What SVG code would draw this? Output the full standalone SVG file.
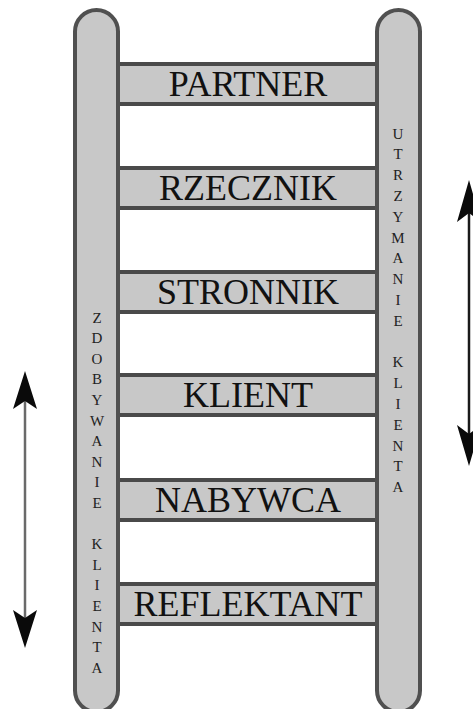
<svg xmlns="http://www.w3.org/2000/svg" width="473" height="709" viewBox="0 0 473 709">
  <style>
    .rail { fill: #c8c8c8; stroke: #505050; stroke-width: 4; }
    .rung { fill: #c8c8c8; stroke: #4a4a4a; stroke-width: 4; }
    .label { font-family: "Liberation Serif", "Times New Roman", serif; font-size: 36px; fill: #111111; text-anchor: middle; }
    .vert { font-family: "Liberation Serif", "Times New Roman", serif; font-size: 15px; fill: #222222; text-anchor: middle; }
    .shaft { fill: none; stroke-width: 2.5; }
    .head { fill: #0a0a0a; }
  </style>
  <rect width="473" height="709" fill="#ffffff"/>

  <!-- rungs (drawn under the rails) -->
  <g id="rung-partner">
    <rect class="rung" x="110" y="64" width="276" height="40"/>
    <text class="label" x="248" y="96">PARTNER</text>
  </g>
  <g id="rung-rzecznik">
    <rect class="rung" x="110" y="168" width="276" height="40"/>
    <text class="label" x="248" y="200">RZECZNIK</text>
  </g>
  <g id="rung-stronnik">
    <rect class="rung" x="110" y="272" width="276" height="40"/>
    <text class="label" x="248" y="304">STRONNIK</text>
  </g>
  <g id="rung-klient">
    <rect class="rung" x="110" y="375" width="276" height="40"/>
    <text class="label" x="248" y="407">KLIENT</text>
  </g>
  <g id="rung-nabywca">
    <rect class="rung" x="110" y="480" width="276" height="40"/>
    <text class="label" x="248" y="512">NABYWCA</text>
  </g>
  <g id="rung-reflektant">
    <rect class="rung" x="110" y="584" width="276" height="40"/>
    <text class="label" x="248" y="616">REFLEKTANT</text>
  </g>

  <!-- left rail -->
  <g id="rail-left">
    <rect class="rail" x="75" y="10" width="43" height="702" rx="21.5"/>
    <g class="vert">
      <text x="97" y="322.5">Z</text>
      <text x="97" y="343.1">D</text>
      <text x="97" y="363.7">O</text>
      <text x="97" y="384.3">B</text>
      <text x="97" y="404.9">Y</text>
      <text x="97" y="425.5">W</text>
      <text x="97" y="446.1">A</text>
      <text x="97" y="466.7">N</text>
      <text x="97" y="487.3">I</text>
      <text x="97" y="507.9">E</text>
      <text x="97" y="549.1">K</text>
      <text x="97" y="569.7">L</text>
      <text x="97" y="590.3">I</text>
      <text x="97" y="610.9">E</text>
      <text x="97" y="631.5">N</text>
      <text x="97" y="652.1">T</text>
      <text x="97" y="672.7">A</text>
    </g>
  </g>

  <!-- right rail -->
  <g id="rail-right">
    <rect class="rail" x="377" y="10" width="43" height="702" rx="21.5"/>
    <g class="vert">
      <text x="398" y="138.5">U</text>
      <text x="398" y="159.3">T</text>
      <text x="398" y="180.1">R</text>
      <text x="398" y="200.9">Z</text>
      <text x="398" y="221.7">Y</text>
      <text x="398" y="242.5">M</text>
      <text x="398" y="263.3">A</text>
      <text x="398" y="284.1">N</text>
      <text x="398" y="304.9">I</text>
      <text x="398" y="325.7">E</text>
      <text x="398" y="367.3">K</text>
      <text x="398" y="388.1">L</text>
      <text x="398" y="408.9">I</text>
      <text x="398" y="429.7">E</text>
      <text x="398" y="450.5">N</text>
      <text x="398" y="471.3">T</text>
      <text x="398" y="492.1">A</text>
    </g>
  </g>

  <!-- double-headed arrows -->
  <g id="connectors">
    <g id="arrow-left">
      <line class="shaft" x1="25" y1="395" x2="25" y2="625" stroke="#6a6a6a"/>
      <path class="head" d="M25,371 L37,409 L25,401 L13,409 Z"/>
      <path class="head" d="M25,648 L37,610 L25,618 L13,610 Z"/>
    </g>
    <g id="arrow-right">
      <line class="shaft" x1="469" y1="205" x2="469" y2="445" stroke="#1a1a1a"/>
      <path class="head" d="M469,180 L481,222 L469,213 L457,222 Z"/>
      <path class="head" d="M469,466 L481,425 L469,434 L457,425 Z"/>
    </g>
  </g>
</svg>
